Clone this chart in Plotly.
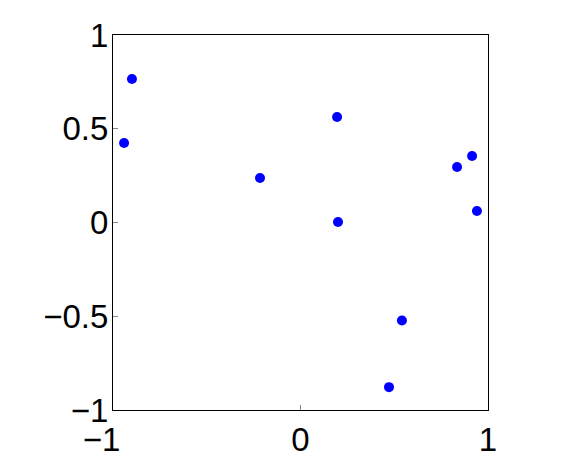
import plotly.graph_objects as go

x_vals = [-0.899, -0.941, -0.216, 0.195, 0.200, 0.835, 0.915, 0.941, 0.541, 0.472]
y_vals = [0.765, 0.424, 0.237, 0.563, 0.003, 0.296, 0.355, 0.061, -0.523, -0.878]
x_ticks = [-1, 0, 1]
y_ticks = [-1, -0.5, 0, 0.5, 1]
x_labels = ["\u22121\u2002\u2009", "0", "1"]
y_labels = ["\u22121", "\u22120.5", "0", "0.5", "1"]

fig = go.Figure()
fig.add_trace(go.Scatter(
    x=x_vals, y=y_vals, mode="markers",
    marker=dict(color="#0000ff", size=10, line=dict(width=0)),
    showlegend=False, cliponaxis=False,
))

axis_common = dict(
    showgrid=False, zeroline=False, showline=True, mirror=True,
    linecolor="black", linewidth=1, automargin=False,
    ticks="inside", ticklen=5, tickcolor="#888888", tickwidth=1,
    tickfont=dict(family="Liberation Sans, Arial", size=33, color="black"),
)
fig.update_xaxes(range=[-1, 1], tickvals=x_ticks, ticktext=x_labels, **axis_common)
fig.update_yaxes(range=[-1, 1], tickvals=y_ticks, ticktext=y_labels,
                 ticklabelstandoff=-3, **axis_common)

# page body has an 8px margin, so the figure is trimmed by that much
fig.update_layout(
    width=573, height=453,
    margin=dict(l=105, r=93, t=27, b=51),
    plot_bgcolor="white", paper_bgcolor="white",
)
fig.write_html("out.html")
